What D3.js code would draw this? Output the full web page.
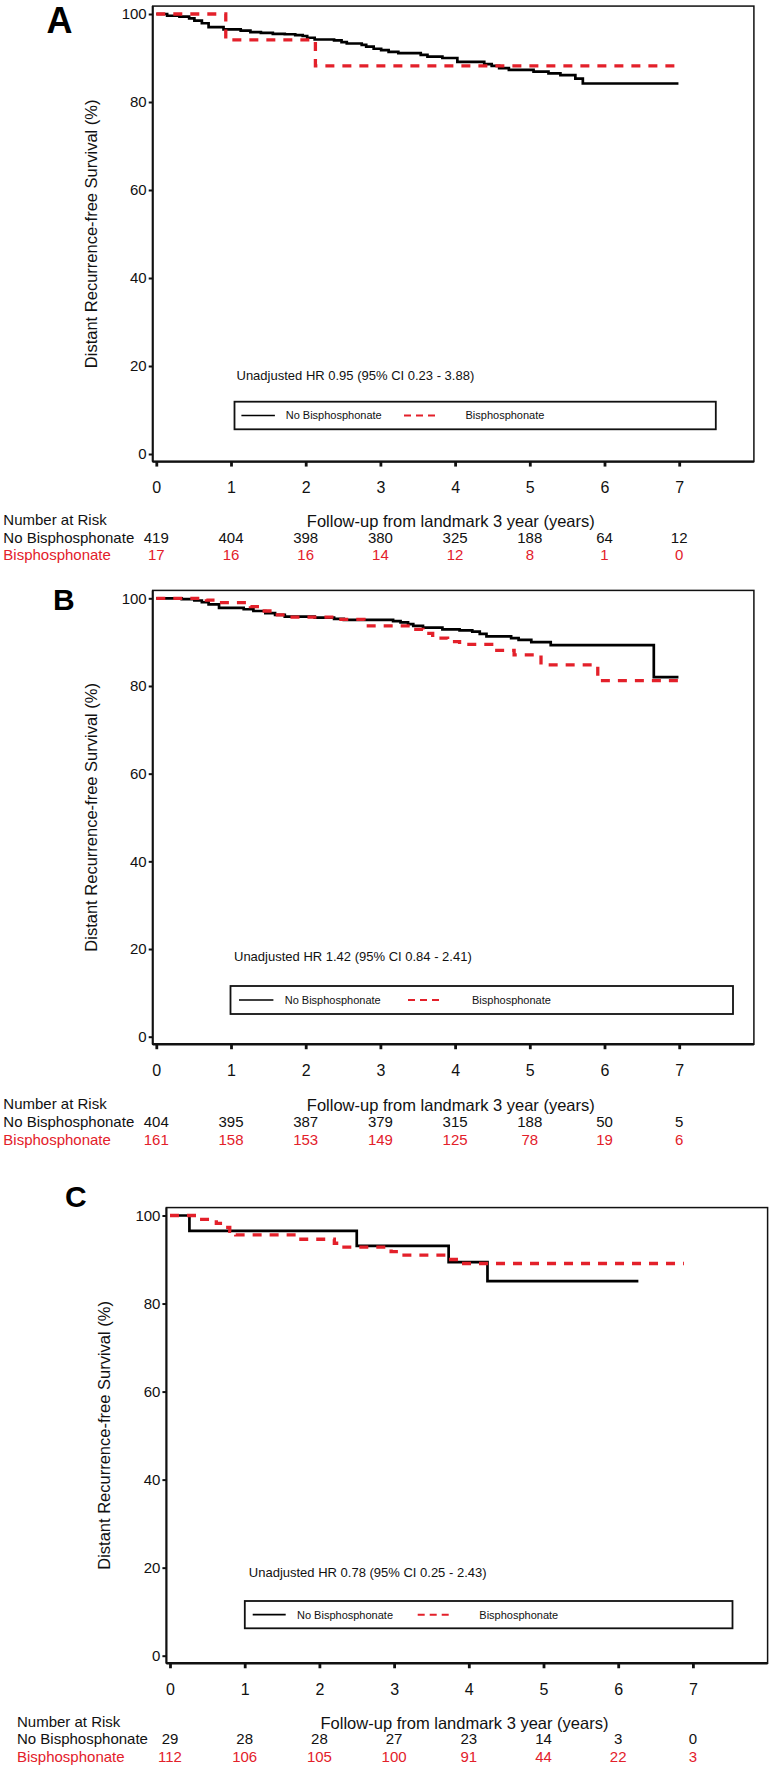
<!DOCTYPE html>
<html>
<head>
<meta charset="utf-8">
<script src="https://cdn.jsdelivr.net/npm/d3@7/dist/d3.min.js"></script>
<style>
  html, body { margin: 0; padding: 0; background: #fff; }
  svg { display: block; }
</style>
</head>
<body>
<div id="chart"></div>
<script>
// ---------------- DATA ----------------
const years = [0, 1, 2, 3, 4, 5, 6, 7];
const yTicks = [0, 20, 40, 60, 80, 100];
const groupNames = ["No Bisphosphonate", "Bisphosphonate"];
const xTitle = "Follow-up from landmark 3 year (years)";
const yTitle = "Distant Recurrence-free Survival (%)";
const riskTitle = "Number at Risk";

// Panel A
const hrA = "Unadjusted HR 0.95 (95% CI 0.23 - 3.88)";
const riskA_no  = [419, 404, 398, 380, 325, 188, 64, 12];
const riskA_bis = [17, 16, 16, 14, 12, 8, 1, 0];
const timeA_no = [0, 0.145, 0.31, 0.44, 0.51, 0.61, 0.70, 0.90, 1.13, 1.26, 1.40, 1.56, 1.72, 1.86, 1.96, 2.02, 2.12, 2.38, 2.48, 2.55, 2.75, 2.81, 2.91, 3.01, 3.11, 3.24, 3.54, 3.63, 3.83, 4.03, 4.39, 4.49, 4.59, 4.72, 5.05, 5.25, 5.41, 5.61, 5.71, 6.99];
const survA_no = [100, 99.6, 99.4, 99.0, 98.5, 97.9, 97.0, 96.5, 96.2, 95.9, 95.7, 95.5, 95.4, 95.2, 95.0, 94.6, 94.2, 94.0, 93.6, 93.3, 93.0, 92.6, 92.1, 91.8, 91.4, 91.1, 90.7, 90.3, 90.0, 89.1, 88.6, 88.2, 87.7, 87.3, 86.9, 86.5, 86.1, 85.3, 84.2, 84.2];
const timeA_bis = [0, 0.93, 2.13, 7.0];
const survA_bis = [100, 94.1, 88.2, 88.2];

// Panel B
const hrB = "Unadjusted HR 1.42 (95% CI 0.84 - 2.41)";
const riskB_no  = [404, 395, 387, 379, 315, 188, 50, 5];
const riskB_bis = [161, 158, 153, 149, 125, 78, 19, 6];
const timeB_no = [0, 0.34, 0.51, 0.61, 0.70, 0.84, 1.17, 1.30, 1.46, 1.59, 1.72, 2.12, 2.38, 2.51, 3.17, 3.27, 3.37, 3.44, 3.57, 3.83, 4.06, 4.23, 4.33, 4.42, 4.75, 4.85, 5.02, 5.28, 6.66, 6.99];
const survB_no = [100, 99.8, 99.5, 99.1, 98.6, 97.8, 97.5, 97.1, 96.6, 96.2, 95.8, 95.6, 95.3, 95.1, 94.8, 94.5, 94.1, 93.7, 93.3, 92.9, 92.7, 92.4, 91.9, 91.3, 90.9, 90.5, 90.0, 89.3, 82.0, 82.0];
const timeB_bis = [0, 0.67, 0.84, 1.26, 1.40, 1.59, 1.79, 2.38, 2.78, 3.37, 3.57, 3.70, 3.90, 4.06, 4.49, 4.79, 5.15, 5.91, 7.0];
const survB_bis = [100, 99.6, 99.0, 98.1, 97.1, 96.2, 95.7, 95.2, 93.7, 92.9, 92.0, 90.9, 90.1, 89.5, 88.1, 87.1, 84.8, 81.2, 81.2];

// Panel C
const hrC = "Unadjusted HR 0.78 (95% CI 0.25 - 2.43)";
const riskC_no  = [29, 28, 28, 27, 23, 14, 3, 0];
const riskC_bis = [112, 106, 105, 100, 91, 44, 22, 3];
const timeC_no = [0, 0.26, 2.50, 3.73, 4.25, 6.27];
const survC_no = [100, 96.5, 93.1, 89.4, 85.1, 85.1];
const timeC_bis = [0, 0.40, 0.62, 0.72, 0.80, 0.88, 1.71, 2.20, 2.26, 2.96, 3.06, 3.69, 3.88, 6.88];
const survC_bis = [100, 99.1, 98.2, 97.3, 96.4, 95.6, 94.6, 93.7, 92.8, 91.8, 91.0, 90.0, 89.1, 89.1];

// ---------------- LAYOUT ----------------
const W = 771, H = 1771;
const FONT = "'Liberation Sans', Arial, Helvetica, sans-serif";
const RED = "#e3202a";

const panels = [
  { letter: "A", letterPos: [46.5, 32.5], letterSize: 36,
    x0: 156.3, y100: 14, ySpan: 440,
    hr: hrA, hrPos: [236.5, 375.7],
    legend: { x1: 234.5, x2: 715.8, y1: 401.7, y2: 429.3, blk: [241.4, 274.9], blkText: 285.7, red: [404, 436], redText: 465.5 },
    riskNo: riskA_no, riskBis: riskA_bis,
    no: [timeA_no, survA_no], bis: [timeA_bis, survA_bis] },
  { letter: "B", letterPos: [53, 610], letterSize: 30,
    x0: 156.3, y100: 598.3, ySpan: 438.4,
    hr: hrB, hrPos: [234, 956.7],
    legend: { x1: 230.5, x2: 733, y1: 986, y2: 1014, blk: [239, 273.4], blkText: 284.7, red: [408, 441], redText: 472 },
    riskNo: riskB_no, riskBis: riskB_bis,
    no: [timeB_no, survB_no], bis: [timeB_bis, survB_bis] },
  { letter: "C", letterPos: [65, 1206.5], letterSize: 30,
    x0: 170, y100: 1215.5, ySpan: 440.2,
    hr: hrC, hrPos: [248.8, 1572.3],
    legend: { x1: 244.8, x2: 732.5, y1: 1601, y2: 1628.3, blk: [252.7, 285.7], blkText: 297, red: [417.7, 449.3], redText: 479.3 },
    riskNo: riskC_no, riskBis: riskC_bis,
    no: [timeC_no, survC_no], bis: [timeC_bis, survC_bis] }
];

const svg = d3.select("#chart").append("svg")
  .attr("width", W).attr("height", H)
  .attr("font-family", FONT);

panels.forEach(p => {
  const g = svg.append("g");
  const x = d3.scaleLinear().domain([0, 7]).range([p.x0, p.x0 + 7 * 74.7]);
  const y = d3.scaleLinear().domain([0, 100]).range([p.y100 + p.ySpan, p.y100]);

  const fl = x(-0.048), fr = x(8.0), ft = y(101.8), fb = y(-1.72);

  // panel letter
  g.append("text").attr("x", p.letterPos[0]).attr("y", p.letterPos[1])
    .attr("font-size", p.letterSize).attr("font-weight", "bold").text(p.letter);

  // frame
  g.append("rect").attr("x", fl).attr("y", ft).attr("width", fr - fl).attr("height", fb - ft)
    .attr("fill", "none").attr("stroke", "#111").attr("stroke-width", 1.5);
  g.append("line").attr("x1", fl).attr("x2", fr).attr("y1", fb).attr("y2", fb)
    .attr("stroke", "#111").attr("stroke-width", 2.3);
  g.append("line").attr("x1", fl).attr("x2", fl).attr("y1", ft).attr("y2", fb)
    .attr("stroke", "#111").attr("stroke-width", 2);

  // y axis
  const ya = g.append("g").attr("transform", `translate(${fl},0)`)
    .call(d3.axisLeft(y).tickValues(yTicks).tickSize(4).tickPadding(2).tickFormat(d3.format("d")));
  ya.select(".domain").remove();
  ya.selectAll(".tick line").attr("stroke", "#111").attr("stroke-width", 2);
  ya.selectAll(".tick text").attr("font-family", FONT).attr("font-size", 15).attr("fill", "#111");

  // x axis
  const xa = g.append("g").attr("transform", `translate(0,${fb})`)
    .call(d3.axisBottom(x).tickValues(years).tickSize(5).tickPadding(15).tickFormat(d3.format("d")));
  xa.select(".domain").remove();
  xa.selectAll(".tick line").attr("stroke", "#111").attr("stroke-width", 2.8);
  xa.selectAll(".tick text").attr("font-family", FONT).attr("font-size", 16).attr("fill", "#111");

  // y title
  g.append("text")
    .attr("transform", `translate(${p.x0 - 65.3},${(ft + fb) / 2}) rotate(-90)`)
    .attr("text-anchor", "middle").attr("dy", "0.35em")
    .attr("font-size", 16.5).attr("fill", "#111").text(yTitle);

  // curves
  const line = d3.line().x(d => x(d[0])).y(d => y(d[1])).curve(d3.curveStepAfter);
  const noPts = p.no[0].map((t, i) => [t, p.no[1][i]]);
  const bisPts = p.bis[0].map((t, i) => [t, p.bis[1][i]]);
  g.append("path").datum(noPts).attr("d", line)
    .attr("fill", "none").attr("stroke", "#000").attr("stroke-width", 2.7);
  g.append("path").datum(bisPts).attr("d", line)
    .attr("fill", "none").attr("stroke", RED).attr("stroke-width", 3.3)
    .attr("stroke-dasharray", "9,8");

  // HR text
  g.append("text").attr("x", p.hrPos[0]).attr("y", p.hrPos[1]).attr("dy", "0.35em")
    .attr("font-size", 13).attr("fill", "#111").text(p.hr);

  // legend
  const L = p.legend, ly = (L.y1 + L.y2) / 2;
  g.append("rect").attr("x", L.x1).attr("y", L.y1).attr("width", L.x2 - L.x1).attr("height", L.y2 - L.y1)
    .attr("fill", "#fff").attr("stroke", "#111").attr("stroke-width", 1.8);
  g.append("line").attr("x1", L.blk[0]).attr("x2", L.blk[1]).attr("y1", ly).attr("y2", ly)
    .attr("stroke", "#000").attr("stroke-width", 1.6);
  g.append("text").attr("x", L.blkText).attr("y", ly).attr("dy", "0.35em")
    .attr("font-size", 11).attr("fill", "#111").text(groupNames[0]);
  g.append("line").attr("x1", L.red[0]).attr("x2", L.red[1]).attr("y1", ly).attr("y2", ly)
    .attr("stroke", RED).attr("stroke-width", 2).attr("stroke-dasharray", "7,5");
  g.append("text").attr("x", L.redText).attr("y", ly).attr("dy", "0.35em")
    .attr("font-size", 11).attr("fill", "#111").text(groupNames[1]);

  // x title
  g.append("text").attr("x", (fl + fr) / 2 - 2.5).attr("y", p.y100 + 513)
    .attr("text-anchor", "middle").attr("font-size", 16.5).attr("fill", "#111").text(xTitle);

  // number at risk
  const lx = p.x0 - 153;
  g.append("text").attr("x", lx).attr("y", p.y100 + 511).attr("font-size", 15).attr("fill", "#111").text(riskTitle);
  g.append("text").attr("x", lx).attr("y", p.y100 + 528.8).attr("font-size", 15).attr("fill", "#111").text(groupNames[0]);
  g.append("text").attr("x", lx).attr("y", p.y100 + 546.3).attr("font-size", 15).attr("fill", RED).text(groupNames[1]);
  g.append("g").selectAll("text").data(p.riskNo).join("text")
    .attr("x", (d, i) => x(years[i])).attr("y", p.y100 + 528.8)
    .attr("text-anchor", "middle").attr("font-size", 15).attr("fill", "#111").text(d => d);
  g.append("g").selectAll("text").data(p.riskBis).join("text")
    .attr("x", (d, i) => x(years[i])).attr("y", p.y100 + 546.3)
    .attr("text-anchor", "middle").attr("font-size", 15).attr("fill", RED).text(d => d);
});
</script>
</body>
</html>
